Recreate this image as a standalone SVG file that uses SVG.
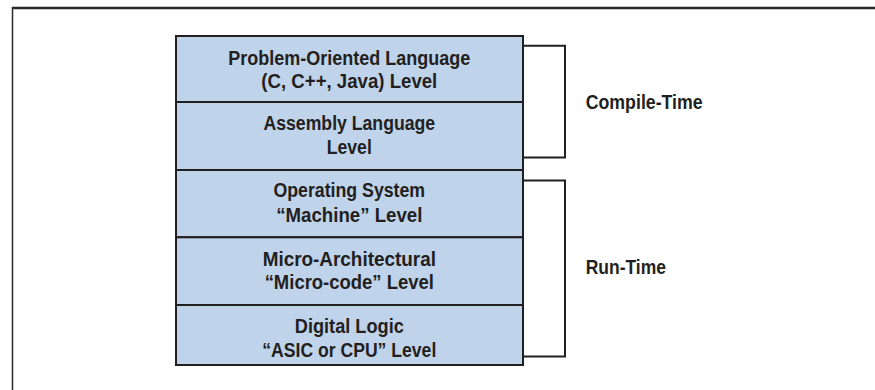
<svg xmlns="http://www.w3.org/2000/svg" width="875" height="390" viewBox="0 0 875 390">
<style>
.lvl{fill:#bfd3ea;stroke:#231f20;stroke-width:2}
.t{font-family:"Liberation Sans",Arial,sans-serif;font-weight:bold;font-size:19.5px;fill:#231f20;text-anchor:middle}
.lab{font-family:"Liberation Sans",Arial,sans-serif;font-weight:bold;font-size:19.5px;fill:#231f20}
.br{fill:none;stroke:#231f20;stroke-width:2}
</style>
<rect width="875" height="390" fill="#ffffff"/>
<g id="frame">
<line x1="12" y1="8" x2="875" y2="8" stroke="#2b2b2b" stroke-width="2.5"/>
<line x1="12.5" y1="7" x2="12.5" y2="390" stroke="#2b2b2b" stroke-width="1.5"/>
</g>
<g id="connectors">
<path class="br" d="M523,45.7 H565 V157.5 H523"/>
<path class="br" d="M523,180.5 H565 V356.5 H523"/>
</g>
<g id="problem-oriented">
<rect class="lvl" x="176" y="36" width="347" height="66"/>
<text class="t" x="349.3" y="65" textLength="242" lengthAdjust="spacingAndGlyphs">Problem-Oriented Language</text>
<text class="t" x="349.3" y="88.3" textLength="176" lengthAdjust="spacingAndGlyphs">(C, C++, Java) Level</text>
</g>
<g id="assembly">
<rect class="lvl" x="176" y="102" width="347" height="68"/>
<text class="t" x="349.3" y="130" textLength="171.7" lengthAdjust="spacingAndGlyphs">Assembly Language</text>
<text class="t" x="349.3" y="154" textLength="45" lengthAdjust="spacingAndGlyphs">Level</text>
</g>
<g id="operating-system">
<rect class="lvl" x="176" y="170" width="347" height="67.3"/>
<text class="t" x="349.3" y="197.3" textLength="151.7" lengthAdjust="spacingAndGlyphs">Operating System</text>
<text class="t" x="349.3" y="221.7" textLength="146.3" lengthAdjust="spacingAndGlyphs">“Machine” Level</text>
</g>
<g id="micro-architectural">
<rect class="lvl" x="176" y="237.3" width="347" height="67.7"/>
<text class="t" x="349.3" y="266" textLength="173.3" lengthAdjust="spacingAndGlyphs">Micro-Architectural</text>
<text class="t" x="349.3" y="289.3" textLength="169.3" lengthAdjust="spacingAndGlyphs">“Micro-code” Level</text>
</g>
<g id="digital-logic">
<rect class="lvl" x="176" y="305" width="347" height="60"/>
<text class="t" x="349.3" y="332.7" textLength="109" lengthAdjust="spacingAndGlyphs">Digital Logic</text>
<text class="t" x="349.3" y="356.7" textLength="174" lengthAdjust="spacingAndGlyphs">“ASIC or CPU” Level</text>
</g>
<g id="compile-time">
<text class="lab" x="585.7" y="109" textLength="117" lengthAdjust="spacingAndGlyphs">Compile-Time</text>
</g>
<g id="run-time">
<text class="lab" x="585.7" y="274" textLength="80.3" lengthAdjust="spacingAndGlyphs">Run-Time</text>
</g>
</svg>
